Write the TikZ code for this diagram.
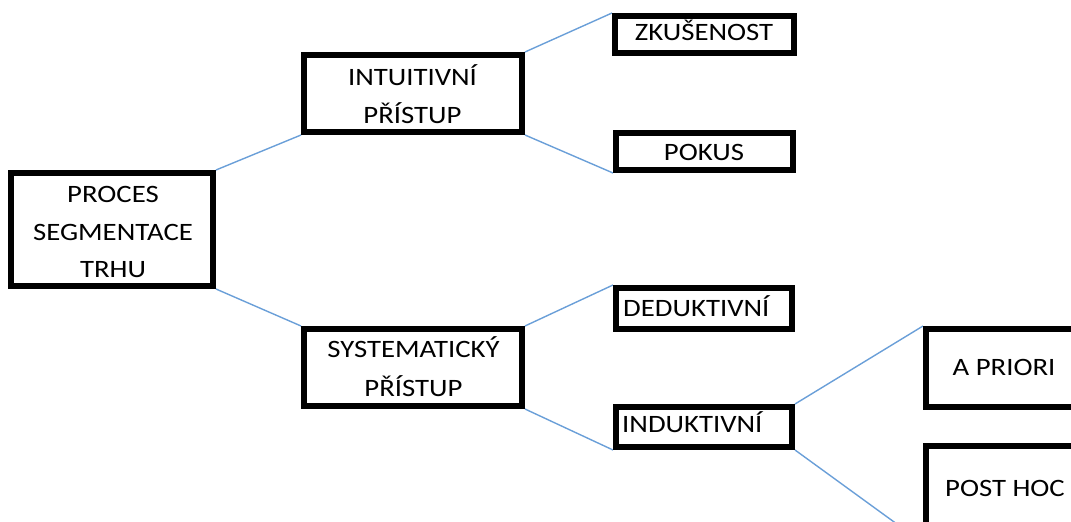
\documentclass[tikz,border=0pt]{standalone}
\usepackage{fontspec}
\setmainfont{Carlito}[FakeStretch=1.15]
\usetikzlibrary{backgrounds}
\begin{document}
\begin{tikzpicture}[x=1bp,y=-1bp,
  box/.style={draw=black, line width=6bp, rectangle, inner sep=0pt},
  lbl/.style={anchor=base, inner sep=0pt, font=\fontsize{25bp}{38.5bp}\selectfont, align=center},
  link/.style={draw=linkblue, line width=1.4bp}]
\definecolor{linkblue}{HTML}{6A9FD8}
\useasboundingbox (0,0) rectangle (1071,522);
\clip (0,0) rectangle (1071,522);

% boxes
\node[box, minimum width=202bp, minimum height=113bp] (proces) at (112,229.5) {};
\node[box, minimum width=218bp, minimum height=77bp]  (intu)   at (413,93.5) {};
\node[box, minimum width=218bp, minimum height=77bp]  (syst)   at (413,367.5) {};
\node[box, minimum width=179bp, minimum height=37bp]  (zkus)   at (704.5,34.5) {};
\node[box, minimum width=177bp, minimum height=37bp]  (pokus)  at (704.5,151.5) {};
\node[box, minimum width=176bp, minimum height=41bp]  (dedu)   at (704,308.5) {};
\node[box, minimum width=176bp, minimum height=40bp]  (indu)   at (704,427) {};
\node[box, minimum width=164bp, minimum height=78bp]  (apri)   at (1008,368) {};
\node[box, minimum width=164bp, minimum height=94bp]  (post)   at (1008,493) {};

% labels (multi-line labels sit on the baseline of their last line)
\node[lbl, font=\fontsize{25bp}{37.5bp}\selectfont] (proces-t) at (113,278) {PROCES\\SEGMENTACE\\TRHU};
\node[lbl] (intu-t)   at (412.5,124) {INTUITIVNÍ\\PŘÍSTUP};
\node[lbl] (syst-t)   at (413.5,396) {SYSTEMATICKÝ\\PŘÍSTUP};
\node[lbl] (zkus-t)   at (704,40.7)  {ZKUŠENOST};
\node[lbl] (pokus-t)  at (704,160.3) {POKUS};
\node[lbl, anchor=base west] (dedu-t) at (623,317) {DEDUKTIVNÍ};
\node[lbl, anchor=base west] (indu-t) at (622,432) {INDUKTIVNÍ};
\node[lbl] (apri-t)   at (1004,376) {A PRIORI};
\node[lbl] (post-t)   at (1005,496) {POST HOC};

% connectors
\begin{scope}[on background layer]
\draw[link] (proces.north east) -- (intu.south west);
\draw[link] (proces.south east) -- (syst.north west);
\draw[link] (intu.north east) -- (zkus.north west);
\draw[link] (intu.south east) -- (pokus.south west);
\draw[link] (syst.north east) -- (dedu.north west);
\draw[link] (syst.south east) -- (indu.south west);
\draw[link] (indu.north east) -- (apri.north west);
\draw[link] (indu.south east) -- (post.south west);
\end{scope}
\end{tikzpicture}
\end{document}
